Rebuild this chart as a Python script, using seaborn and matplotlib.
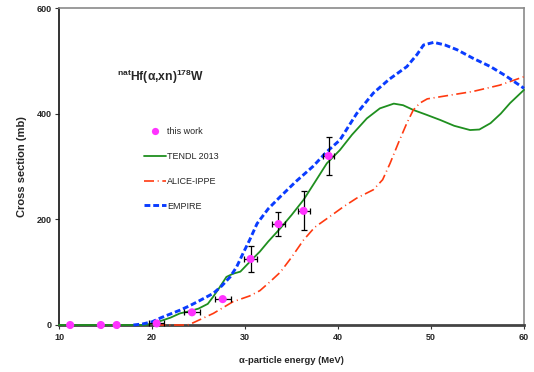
import matplotlib
matplotlib.use("Agg")
import matplotlib.pyplot as plt
import seaborn as sns
import pandas as pd
from matplotlib.lines import Line2D

# ---- data ----
tendl_e = [10, 19.3, 20, 21, 22, 23, 24, 25, 26, 26.6, 27.3, 28, 28.7, 29.5, 30.7, 31.6, 32.5,
           33.8, 35, 36.3, 37.5, 38.8, 40.2, 41.5, 43.1, 44.5, 46.0, 47, 48.1, 49.5, 51.0, 52.5,
           54.2, 55.2, 56.4, 57.5, 58.5, 60]
tendl_y = [0, 0, 3, 8, 14, 22, 26, 31, 40, 54, 72, 91, 97, 101, 123, 139, 158,
           183, 208, 237, 270, 306, 331, 360, 391, 410, 419, 416, 407, 398, 388, 377,
           369, 370, 382, 400, 420, 445]

empire_e = [18, 19, 20, 21, 22, 23, 24, 25, 26.6, 27.5, 28.4, 29.1, 29.8, 30.5, 31.3, 32.5,
            33.8, 35.5, 37.3, 38.8, 40.2, 42, 43.8, 45.5, 47.4, 48.5, 49.2, 50.3, 51.5, 52.8,
            54.5, 56.4, 58, 60]
empire_y = [0, 2, 6, 14, 21, 28, 36, 45, 60, 74, 91, 110, 136, 161, 192, 220,
            243, 272, 300, 328, 350, 400, 439, 465, 489, 512, 530, 535, 530, 521,
            505, 489, 472, 448]

alice_e = [20.4, 23.8, 24.4, 26.6, 28.7, 30.5, 31.6, 32.7, 33.8, 35, 36.3, 37.5, 39.1, 40.6,
           42, 43.8, 44.8, 45.6, 46.5, 47.4, 48.1, 48.8, 49.6, 51.0, 54.5, 57.4, 60]
alice_y = [0, 0, 4, 22, 44, 55, 65, 82, 100, 128, 161, 185, 205, 224,
           240, 256, 275, 306, 345, 382, 407, 420, 428, 432, 442, 454, 470]

exp_e = [11.2, 14.5, 16.2, 20.5, 24.3, 27.6, 30.6, 33.6, 36.3, 39.0]
exp_y = [0, 0, 0, 3, 24, 49, 125, 191, 216, 320]
exp_dy = [0, 0, 0, 0, 0, 0, 24, 22, 37, 36]
exp_dx = [0, 0, 0, 0.8, 0.9, 0.85, 0.72, 0.65, 0.65, 0.6]

x_ticks = [10, 20, 30, 40, 50, 60]
y_ticks = [0, 200, 400, 600]

# ---- style ----
sns.set_style("ticks")
plt.rcParams["font.family"] = ["Liberation Sans", "DejaVu Sans"]
plt.rcParams["mathtext.fontset"] = "custom"
plt.rcParams["mathtext.bf"] = "Liberation Sans:bold"
plt.rcParams["mathtext.rm"] = "Liberation Sans:bold"

fig = plt.figure(figsize=(5.34, 3.72), dpi=100)
ax = fig.add_axes([59 / 534, 1 - 325 / 372, 465 / 534, 317 / 372])

green = "#1f8f1f"
red = "#ff3a10"
blue = "#0a3cff"
magenta = "#ff33ff"

df_t = pd.DataFrame({"E": tendl_e, "y": tendl_y})
df_e = pd.DataFrame({"E": empire_e, "y": empire_y})
df_a = pd.DataFrame({"E": alice_e, "y": alice_y})
df_x = pd.DataFrame({"E": exp_e, "y": exp_y})

sns.lineplot(data=df_t, x="E", y="y", ax=ax, color=green, lw=1.3, sort=False,
             estimator=None, clip_on=False, zorder=3)
sns.lineplot(data=df_a, x="E", y="y", ax=ax, color=red, lw=1.2, sort=False,
             estimator=None, linestyle=(0, (6, 2.2, 0.6, 2.2)), clip_on=False, zorder=3)
sns.lineplot(data=df_e, x="E", y="y", ax=ax, color=blue, lw=2.1, sort=False,
             estimator=None, linestyle=(0, (2.0, 1.0)), clip_on=False, zorder=4)

ax.errorbar(exp_e, exp_y, yerr=exp_dy, xerr=exp_dx, fmt="none", ecolor="black",
            elinewidth=0.9, capsize=2, capthick=0.9, zorder=5, clip_on=False)
sns.scatterplot(data=df_x, x="E", y="y", ax=ax, color=magenta, s=34, edgecolor="none",
                zorder=6, clip_on=False)

ax.set_xlim(10, 60)
ax.set_ylim(0, 600)
ax.set_xticks(x_ticks)
ax.set_yticks(y_ticks)
ax.set_xticklabels([str(t) for t in x_ticks], fontsize=6.5, fontweight="bold")
ax.set_yticklabels([str(t) for t in y_ticks], fontsize=6.5, fontweight="bold")
ax.tick_params(axis="both", direction="out", length=3, width=0.8, pad=2.5, color="#333333")

ax.set_xlabel("α-particle energy (MeV)", fontsize=6.8, fontweight="bold", labelpad=11)
ax.set_ylabel("Cross section (mb)", fontsize=8, fontweight="bold", labelpad=10)
ax.yaxis.set_label_coords(-(59 - 21.7) / 465, 0.5)
ax.xaxis.set_label_coords(0.5, -(360.7 - 325) / 317)
ax.xaxis.label.set_va("center")
ax.yaxis.label.set_va("center")

for s in ["top", "right"]:
    ax.spines[s].set_color("#8a8a8a")
    ax.spines[s].set_linewidth(1.2)
ax.spines["left"].set_color("#111111")
ax.spines["left"].set_linewidth(1.2)
ax.spines["bottom"].set_color("#444444")
ax.spines["bottom"].set_linewidth(2.0)

ax.text((117 - 59) / 465, (325 - 77) / 317, r"$^{\mathbf{nat}}$Hf(α,xn)$^{\mathbf{178}}$W",
        transform=ax.transAxes, fontsize=8.7, fontweight="bold", ha="left", va="center")

handles = [
    Line2D([], [], marker="o", color=magenta, linestyle="none", markersize=5.2,
           markeredgecolor="none"),
    Line2D([], [], color=green, lw=1.3),
    Line2D([], [], color=red, lw=1.2, linestyle=(0, (6, 2.2, 0.6, 2.2))),
    Line2D([], [], color=blue, lw=2.1, linestyle=(0, (2.0, 1.0))),
]
labels = ["this work", "TENDL 2013", "ALICE-IPPE", "EMPIRE"]
ax.legend(handles, labels, loc="upper left", bbox_to_anchor=(0.183, 0.624), frameon=False,
          fontsize=6.5, labelspacing=1.75, handlelength=2.4, handletextpad=0.15,
          borderpad=0, borderaxespad=0)

fig.savefig("out.png", dpi=100)
